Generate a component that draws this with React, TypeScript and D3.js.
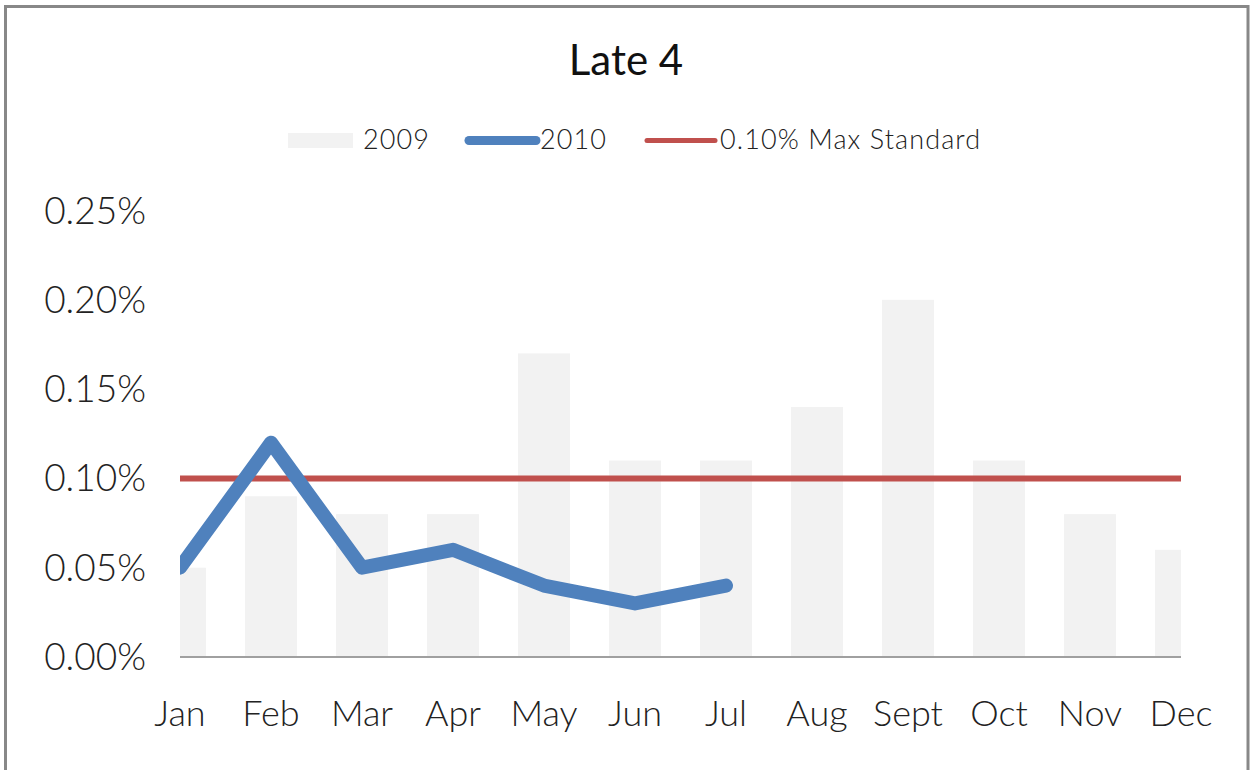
import React from "react";
import * as d3 from "d3";

const months = ["Jan", "Feb", "Mar", "Apr", "May", "Jun", "Jul", "Aug", "Sept", "Oct", "Nov", "Dec"];
const values2009 = [0.05, 0.09, 0.08, 0.08, 0.17, 0.11, 0.11, 0.14, 0.2, 0.11, 0.08, 0.06];
const values2010 = [0.05, 0.12, 0.05, 0.06, 0.04, 0.03, 0.04];
const maxStandard = 0.1;
const yTicks = [0, 0.05, 0.1, 0.15, 0.2, 0.25];
const legendLabels = ["2009", "2010", "0.10% Max Standard"];

const W = 1250;
const H = 770;
const left = 180;
const right = 1181;
const top = 210.5;
const bottom = 657;

const FONT = "Lato, 'Open Sans', sans-serif";

export default function App() {
  const x = d3.scalePoint<string>().domain(months).range([left, right]);
  const y = d3.scaleLinear().domain([0, 0.25]).range([bottom, top]);
  const barW = x.step() * 0.57;
  const line = d3
    .line<number>()
    .x((_, i) => x(months[i]) as number)
    .y((d) => y(d));

  return (
    <svg
      width={W}
      height={H}
      style={{ position: "absolute", left: 0, top: 0, background: "#fff" }}
    >
      <defs>
        <clipPath id="plotClip">
          <rect x={left} y={0} width={right - left} height={H} />
        </clipPath>
      </defs>
      <rect x={0} y={0} width={W} height={H} fill="#fff" />
      <rect x={5.5} y={6.5} width={1242.5} height={800} fill="none" stroke="#888" strokeWidth={3} />

      <text x={626} y={75} textAnchor="middle" fontFamily={FONT} fontSize={42} fill="#111">
        Late 4
      </text>

      {/* legend */}
      <g fontFamily={FONT} fontSize={27} fill="#222" fontWeight={300} letterSpacing={1.1}>
        <rect x={288} y={133} width={65} height={15} fill="#f2f2f2" />
        <text x={363} y={149}>{legendLabels[0]}</text>
        <line x1={469} x2={536} y1={140.5} y2={140.5} stroke="#4f81bd" strokeWidth={9} strokeLinecap="round" />
        <text x={540} y={149}>{legendLabels[1]}</text>
        <line x1={647} x2={715} y1={140.5} y2={140.5} stroke="#c0504d" strokeWidth={5} strokeLinecap="round" />
        <text x={720} y={149}>{legendLabels[2]}</text>
      </g>

      {/* bars */}
      <g clipPath="url(#plotClip)">
        {values2009.map((v, i) => (
          <rect
            key={months[i]}
            x={(x(months[i]) as number) - barW / 2}
            y={y(v)}
            width={barW}
            height={bottom - y(v)}
            fill="#f2f2f2"
          />
        ))}
      </g>

      {/* axis */}
      <line x1={left} x2={right} y1={bottom} y2={bottom} stroke="#a0a0a0" strokeWidth={2} />

      {/* y ticks */}
      <g fontFamily={FONT} fontSize={37} fontWeight={300} fill="#222">
        {yTicks.map((t) => (
          <text key={t} x={146} y={y(t) + 13} textAnchor="end">
            {(t).toFixed(2) + "%"}
          </text>
        ))}
      </g>

      {/* x labels */}
      <g fontFamily={FONT} fontSize={36} fontWeight={300} fill="#222">
        {months.map((m) => (
          <text key={m} x={x(m) as number} y={726} textAnchor="middle">
            {m}
          </text>
        ))}
      </g>

      {/* max standard */}
      <line x1={left} x2={right} y1={y(maxStandard)} y2={y(maxStandard)} stroke="#c0504d" strokeWidth={6} />

      {/* 2010 line */}
      <path
        d={line(values2010) || ""}
        fill="none"
        stroke="#4f81bd"
        strokeWidth={14}
        strokeLinejoin="round"
        strokeLinecap="round"
        clipPath="url(#plotClip)"
      />
    </svg>
  );
}
